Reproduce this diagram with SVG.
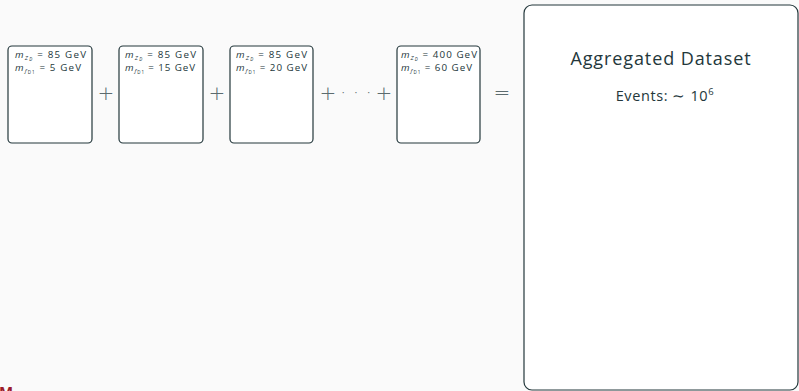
<svg xmlns="http://www.w3.org/2000/svg" width="799" height="391" viewBox="0 0 799 391">
<style>
.box{fill:#ffffff;stroke:#23373b;stroke-width:1.2}
.lab{font-family:"Open Sans","Noto Sans",sans-serif;font-size:9.8px;fill:#23373b}
.mi{font-style:italic}
.sub{font-size:6px}
.ssub{font-size:4.5px}
.op{font-family:"DejaVu Sans","Noto Sans",sans-serif;font-size:20px;fill:#5c6b6e;font-weight:300}
.title{font-family:"Open Sans","Noto Sans",sans-serif;font-size:18px;letter-spacing:0.9px;fill:#23373b}
.ev{font-family:"Open Sans","Noto Sans",sans-serif;font-size:14.5px;letter-spacing:0.6px;fill:#23373b}
</style>
<rect width="799" height="391" fill="#fafafa"/>
<g id="node1">
<rect class="box" x="8" y="46" width="84" height="97" rx="4"/>
<text class="lab" x="15" y="58" textLength="71" lengthAdjust="spacing"><tspan class="mi">m</tspan><tspan class="mi sub" dy="1.5">Z</tspan><tspan class="mi ssub" dy="1">D</tspan><tspan dy="-2.5"> = 85 GeV</tspan></text>
<text class="lab" x="15" y="71" textLength="66" lengthAdjust="spacing"><tspan class="mi">m</tspan><tspan class="mi sub" dy="1.5">f</tspan><tspan class="ssub" dy="1">D1</tspan><tspan dy="-2.5"> = 5 GeV</tspan></text>
</g>
<g id="node2">
<rect class="box" x="119" y="46" width="84" height="97" rx="4"/>
<text class="lab" x="125" y="58" textLength="71" lengthAdjust="spacing"><tspan class="mi">m</tspan><tspan class="mi sub" dy="1.5">Z</tspan><tspan class="mi ssub" dy="1">D</tspan><tspan dy="-2.5"> = 85 GeV</tspan></text>
<text class="lab" x="125" y="71" textLength="70" lengthAdjust="spacing"><tspan class="mi">m</tspan><tspan class="mi sub" dy="1.5">f</tspan><tspan class="ssub" dy="1">D1</tspan><tspan dy="-2.5"> = 15 GeV</tspan></text>
</g>
<g id="node3">
<rect class="box" x="230" y="46" width="83" height="97" rx="4"/>
<text class="lab" x="236" y="58" textLength="71" lengthAdjust="spacing"><tspan class="mi">m</tspan><tspan class="mi sub" dy="1.5">Z</tspan><tspan class="mi ssub" dy="1">D</tspan><tspan dy="-2.5"> = 85 GeV</tspan></text>
<text class="lab" x="236" y="71" textLength="71" lengthAdjust="spacing"><tspan class="mi">m</tspan><tspan class="mi sub" dy="1.5">f</tspan><tspan class="ssub" dy="1">D1</tspan><tspan dy="-2.5"> = 20 GeV</tspan></text>
</g>
<g id="node4">
<rect class="box" x="397" y="46" width="83" height="97" rx="4"/>
<text class="lab" x="401" y="58" textLength="76" lengthAdjust="spacing"><tspan class="mi">m</tspan><tspan class="mi sub" dy="1.5">Z</tspan><tspan class="mi ssub" dy="1">D</tspan><tspan dy="-2.5"> = 400 GeV</tspan></text>
<text class="lab" x="401" y="71" textLength="71" lengthAdjust="spacing"><tspan class="mi">m</tspan><tspan class="mi sub" dy="1.5">f</tspan><tspan class="ssub" dy="1">D1</tspan><tspan dy="-2.5"> = 60 GeV</tspan></text>
</g>
<g id="operators">
<text class="op" x="106" y="100" text-anchor="middle">+</text>
<text class="op" x="217" y="100" text-anchor="middle">+</text>
<text class="op" x="328" y="100" text-anchor="middle">+</text>
<text class="op" x="356" y="99" text-anchor="middle" font-size="16">· · ·</text>
<text class="op" x="384" y="100" text-anchor="middle">+</text>
<text class="op" x="502" y="99" text-anchor="middle">=</text>
</g>
<g id="aggregated">
<rect class="box" x="524" y="5" width="274" height="385" rx="8"/>
<text class="title" x="661" y="65" text-anchor="middle">Aggregated Dataset</text>
<text class="ev" x="665" y="101" text-anchor="middle">Events:  ∼  10<tspan font-size="9.5" dy="-6">6</tspan></text>
</g>
<text x="-1" y="397" font-family="Open Sans, sans-serif" font-weight="bold" font-size="15" fill="#9b1c2c">M</text>
</svg>
